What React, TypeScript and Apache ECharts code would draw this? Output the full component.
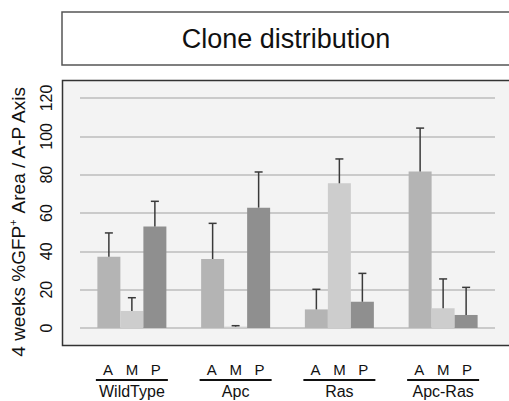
import React, { useEffect, useRef } from "react";
import * as echarts from "echarts";

const categories = ["WildType", "Apc", "Ras", "Apc-Ras"];
const subLabels = ["A", "M", "P"];
const valuesA = [37.2, 36, 9.7, 81.6];
const valuesM = [8.9, 0.7, 75.5, 10.3];
const valuesP = [52.9, 62.8, 13.7, 6.8];
const errA = [12.4, 18.6, 10.5, 22.7];
const errM = [6.9, 0.5, 12.7, 15.3];
const errP = [13.2, 18.6, 14.8, 14.4];
const yTicks = [0, 20, 40, 60, 80, 100, 120];
const titleText = "Clone distribution";

const FONT = "'Liberation Sans', Arial, Helvetica, sans-serif";
const BAR_W = 23;
const colors = ["#b4b4b4", "#cdcdcd", "#8f8f8f"];

export default function App() {
  const ref = useRef<HTMLDivElement>(null);
  useEffect(() => {
    if (!ref.current) return;
    document.documentElement.style.overflow = "hidden";
    document.body.style.overflow = "hidden";
    document.body.style.margin = "0";
    const chart = echarts.init(ref.current, null, { renderer: "svg" });
    const groups = [
      { name: subLabels[0], vals: valuesA, errs: errA },
      { name: subLabels[1], vals: valuesM, errs: errM },
      { name: subLabels[2], vals: valuesP, errs: errP },
    ];
    const barSeries = groups.map((g, i) => ({
      type: "bar",
      name: g.name,
      data: g.vals,
      barWidth: BAR_W,
      barGap: "0%",
      itemStyle: { color: colors[i] },
      z: 2,
    }));
    const errSeries = groups.map((g, i) => ({
      type: "custom",
      name: g.name + "-err",
      data: g.vals.map((v, k) => [k, v, v + g.errs[k]]),
      z: 3,
      renderItem: (params: any, api: any) => {
        const x = api.value(0);
        const lo = api.coord([x, api.value(1)]);
        const hi = api.coord([x, api.value(2)]);
        const cx = lo[0] + (i - 1) * BAR_W;
        const capHalf = 4;
        return {
          type: "group",
          children: [
            {
              type: "line",
              shape: { x1: cx, y1: lo[1], x2: cx, y2: hi[1] },
              style: { stroke: "#3a3a3a", lineWidth: 1.5 },
            },
            {
              type: "line",
              shape: { x1: cx - capHalf, y1: hi[1], x2: cx + capHalf, y2: hi[1] },
              style: { stroke: "#3a3a3a", lineWidth: 1.5 },
            },
          ],
        };
      },
    }));
    chart.setOption({
      animation: false,
      backgroundColor: "#ffffff",
      graphic: [
        {
          type: "polyline",
          z: -9,
          shape: { points: [[520, 12], [62, 12], [62, 65], [520, 65]] },
          style: { fill: "none", stroke: "#555555", lineWidth: 1.5 },
        },
        {
          type: "text",
          z: -9,
          x: 286,
          y: 39,
          style: {
            text: titleText,
            font: `27px ${FONT}`,
            fill: "#111111",
            textAlign: "center",
            textVerticalAlign: "middle",
          },
        },
        {
          type: "rect",
          z: -10,
          shape: { x: 62.5, y: 80.5, width: 460, height: 265 },
          style: { fill: "#f3f3f3", stroke: "none" },
        },
        {
          type: "polyline",
          z: -9,
          shape: { points: [[520, 80.5], [62.5, 80.5], [62.5, 345.5], [520, 345.5]] },
          style: { fill: "none", stroke: "#333333", lineWidth: 1.5 },
        },
        {
          type: "text",
          x: 18,
          y: 221,
          rotation: Math.PI / 2,
          style: {
            text: "{m|4 weeks %GFP}{s|+}{m| Area / A-P Axis}",
            textAlign: "center",
            textVerticalAlign: "middle",
            fill: "#111111",
            rich: {
              m: { fontSize: 19, fontFamily: FONT, fill: "#111111", lineHeight: 22 },
              s: { fontSize: 11, fontFamily: FONT, fill: "#111111", lineHeight: 22, verticalAlign: "top", padding: [0, 0, 10, 0] },
            },
          },
        },
      ],
      grid: { left: 80, right: 14, top: 98, bottom: 73, containLabel: false },
      xAxis: {
        type: "category",
        data: categories,
        axisLine: { show: false },
        axisTick: { show: false },
        axisLabel: {
          interval: 0,
          margin: 34,
          formatter: (v: string) =>
            `{a|${subLabels[0]}}{a|${subLabels[1]}}{a|${subLabels[2]}}\n{u| }\n{n|${v}}`,
          rich: {
            a: { fontSize: 15, fontFamily: FONT, color: "#111", width: 24, align: "center", lineHeight: 15 },
            u: { fontSize: 1, width: 72, height: 2, backgroundColor: "#111", lineHeight: 6 },
            n: { fontSize: 16, fontFamily: FONT, color: "#111", lineHeight: 17 },
          },
        },
      },
      yAxis: {
        type: "value",
        min: 0,
        max: 120,
        interval: 20,
        axisLine: { show: false },
        axisTick: { show: false },
        splitLine: { show: true, lineStyle: { color: "#bcbcbc", width: 1.5 } },
        axisLabel: {
          rotate: 90,
          margin: 26,
          fontSize: 16,
          fontFamily: FONT,
          color: "#111",
          formatter: (v: number) => (yTicks.includes(v) ? String(v) : ""),
        },
      },
      series: [...barSeries, ...errSeries],
    });
    return () => chart.dispose();
  }, []);
  return (
    <div
      ref={ref}
      style={{ position: "fixed", left: 0, top: 0, width: 509, height: 401 }}
    />
  );
}
